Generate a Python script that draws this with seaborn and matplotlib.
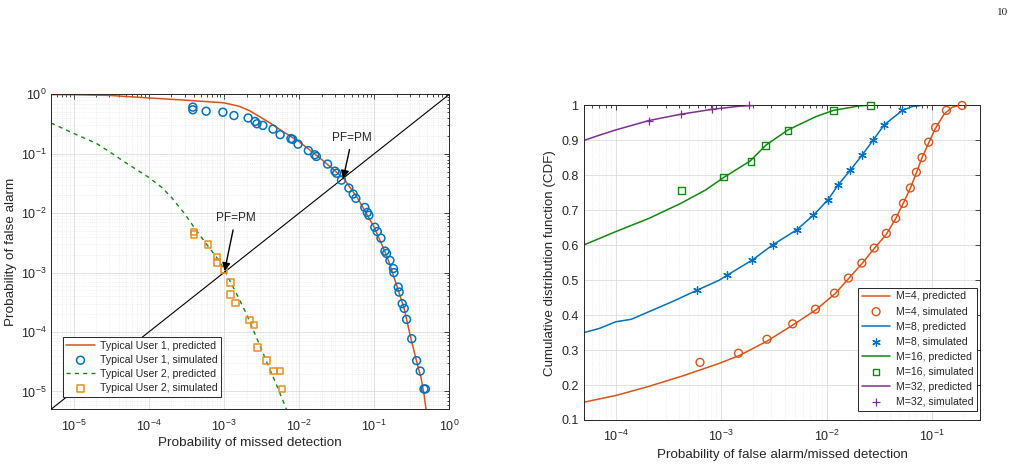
import matplotlib
matplotlib.use("Agg")
import matplotlib.pyplot as plt
import numpy as np
import seaborn as sns

# ---- left panel: user 1 / user 2 (log-log) ----
u1_pred_x = [5e-6, 1e-5, 3e-5, 1e-4, 3e-4, 1e-3, 1.6e-3, 2.2e-3, 3e-3, 4.1e-3, 6e-3,
             1e-2, 2e-2, 3.9e-2, 6e-2, 0.1, 0.15, 0.2, 0.25, 0.3, 0.36, 0.42, 0.46, 0.49]
u1_pred_y = [0.99, 0.985, 0.96, 0.87, 0.80, 0.72, 0.63, 0.53, 0.42, 0.33, 0.24,
             0.16, 0.08, 0.039, 0.018, 0.0058, 0.0018, 6e-4, 2.5e-4, 9e-5, 3.5e-5, 1.7e-5,
             9e-6, 5e-6]

u1_sim_x = [3.86e-4, 3.86e-4, 5.8e-4, 9.7e-4, 1.36e-3, 2.1e-3, 2.6e-3, 2.75e-3, 3.3e-3,
            4.5e-3, 5.6e-3, 7.8e-3, 8.2e-3, 9.7e-3, 0.0133, 0.0162, 0.017, 0.024, 0.030,
            0.0316, 0.0367, 0.046, 0.0525, 0.057, 0.075, 0.081, 0.085, 0.102, 0.11,
            0.123, 0.139, 0.146, 0.162, 0.18, 0.183, 0.209, 0.215, 0.236, 0.251, 0.27,
            0.316, 0.367, 0.41, 0.46, 0.48]
u1_sim_y = [0.61, 0.55, 0.52, 0.50, 0.44, 0.40, 0.35, 0.32, 0.30,
            0.26, 0.21, 0.18, 0.175, 0.145, 0.113, 0.096, 0.09, 0.067, 0.051,
            0.047, 0.036, 0.0265, 0.021, 0.0178, 0.0125, 0.0103, 0.0092, 0.0058, 0.0049,
            0.0038, 0.0023, 0.0021, 0.0016, 0.00117, 0.001, 5.7e-4, 4.7e-4, 3.0e-4, 2.5e-4, 1.63e-4,
            7.7e-5, 3.3e-5, 2.2e-5, 1.1e-5, 1.1e-5]

u2_pred_x = [5e-6, 1e-5, 2e-5, 3e-5, 5e-5, 1e-4, 1.5e-4, 2e-4, 3e-4, 4e-4, 6e-4, 8e-4,
             1e-3, 1.5e-3, 2e-3, 3e-3, 4e-3, 5e-3, 6.8e-3]
u2_pred_y = [0.33, 0.22, 0.15, 0.108, 0.07, 0.04, 0.027, 0.0185, 0.0098, 0.0058, 0.0029,
             0.0018, 0.00115, 4.2e-4, 2.0e-4, 6e-5, 2.5e-5, 1.3e-5, 5e-6]

u2_sim_x = [4.0e-4, 4.0e-4, 6.1e-4, 8.1e-4, 8.1e-4, 1.0e-3, 1.22e-3, 1.22e-3, 1.43e-3,
            2.2e-3, 2.5e-3, 2.8e-3, 3.7e-3, 4.6e-3, 5.6e-3, 5.9e-3]
u2_sim_y = [4.8e-3, 4.4e-3, 3.0e-3, 1.84e-3, 1.49e-3, 1.13e-3, 6.8e-4, 4.3e-4, 3.1e-4,
            1.6e-4, 1.3e-4, 5.5e-5, 3.3e-5, 2.2e-5, 2.2e-5, 1.1e-5]

diag_xy = [5e-6, 1.0]

# ---- right panel: CDF for different M ----
m4_pred_x = [5e-5, 1e-4, 2e-4, 4.3e-4, 9.6e-4, 1.5e-3, 2.7e-3, 4.8e-3, 7.9e-3, 0.012, 0.016,
             0.0216, 0.028, 0.037, 0.045, 0.053, 0.062, 0.071, 0.080, 0.093, 0.108, 0.13,
             0.155, 0.18]
m4_pred_y = [0.151, 0.170, 0.195, 0.226, 0.262, 0.285, 0.325, 0.372, 0.415, 0.461, 0.503,
             0.547, 0.589, 0.632, 0.675, 0.718, 0.762, 0.807, 0.849, 0.893, 0.935, 0.975,
             0.995, 1.0]
m4_sim_x = [6.3e-4, 1.46e-3, 2.72e-3, 4.77e-3, 7.85e-3, 0.0119, 0.0161, 0.0216, 0.0283, 0.0369,
            0.0452, 0.0535, 0.0623, 0.0711, 0.0804, 0.093, 0.108, 0.137, 0.193]
m4_sim_y = [0.265, 0.291, 0.331, 0.375, 0.417, 0.463, 0.506, 0.549, 0.592, 0.634,
            0.677, 0.720, 0.764, 0.809, 0.851, 0.895, 0.937, 0.986, 1.0]

m8_pred_x = [5e-5, 7e-5, 1e-4, 1.4e-4, 2.07e-4, 3.46e-4, 5.96e-4, 9.6e-4, 1.15e-3, 1.98e-3,
             3.08e-3, 5.2e-3, 7.5e-3, 0.0103, 0.0129, 0.0168, 0.0216, 0.0275, 0.0353, 0.0524,
             0.065, 0.079]
m8_pred_y = [0.350, 0.362, 0.381, 0.388, 0.410, 0.439, 0.472, 0.500, 0.515, 0.558,
             0.601, 0.644, 0.686, 0.730, 0.773, 0.815, 0.857, 0.900, 0.945, 0.986,
             0.997, 1.0]
m8_sim_x = [5.9e-4, 1.13e-3, 1.96e-3, 3.1e-3, 5.2e-3, 7.5e-3, 0.0103, 0.0129, 0.0168, 0.0216,
            0.0275, 0.0353, 0.0524]
m8_sim_y = [0.472, 0.515, 0.558, 0.601, 0.644, 0.686, 0.730, 0.773, 0.815, 0.857,
            0.900, 0.945, 0.986]

m16_pred_x = [5e-5, 1e-4, 2.07e-4, 4.15e-4, 7.1e-4, 1.07e-3, 1.88e-3, 2.67e-3, 4.3e-3, 7.9e-3,
              0.0116, 0.0206, 0.024]
m16_pred_y = [0.601, 0.639, 0.677, 0.720, 0.758, 0.795, 0.841, 0.887, 0.930, 0.968,
              0.986, 0.999, 1.0]
m16_sim_x = [4.2e-4, 1.05e-3, 1.92e-3, 2.63e-3, 4.3e-3, 0.0116, 0.026]
m16_sim_y = [0.756, 0.795, 0.839, 0.885, 0.928, 0.986, 1.0]

m32_pred_x = [5e-5, 7e-5, 1e-4, 2.07e-4, 4.15e-4, 8.2e-4, 1.5e-3, 2e-3]
m32_pred_y = [0.900, 0.915, 0.930, 0.957, 0.975, 0.989, 0.998, 1.0]
m32_sim_x = [2.07e-4, 4.15e-4, 8.2e-4, 1.85e-3]
m32_sim_y = [0.957, 0.975, 0.989, 1.0]

right_yticks = [0.1, 0.2, 0.3, 0.4, 0.5, 0.6, 0.7, 0.8, 0.9, 1.0]
right_yticklabels = ["0.1", "0.2", "0.3", "0.4", "0.5", "0.6", "0.7", "0.8", "0.9", "1"]

# colours (MATLAB-like)
c_orange = "#D95319"
c_blue = "#0072BD"
c_green = "#0F8A0F"
c_purple = "#7E2F8E"
c_yellow = "#E8901E"
c_green_dash = "#118811"

sns.set_style("white")
plt.rcParams["font.family"] = ["Liberation Sans", "DejaVu Sans"]
plt.rcParams["mathtext.fontset"] = "custom"
plt.rcParams["mathtext.rm"] = "Liberation Sans"
plt.rcParams["mathtext.it"] = "Liberation Sans:italic"
plt.rcParams["mathtext.bf"] = "Liberation Sans:bold"

fig = plt.figure(figsize=(10.24, 4.68), dpi=100)
ax1 = fig.add_axes([0.0498, 0.1254, 0.389, 0.673])
ax2 = fig.add_axes([0.5703, 0.1026, 0.3867, 0.672])

tick_col = "#262626"


def style_axes(ax, minor_y=True, labelsize=8.5):
    ax.grid(True, which="major", color="#dcdcdc", linewidth=0.6, linestyle="-")
    ax.grid(True, which="minor", axis="x", color="#e2e2e2", linewidth=0.5, linestyle=":")
    if minor_y:
        ax.grid(True, which="minor", axis="y", color="#e2e2e2", linewidth=0.5, linestyle=":")
    ax.set_axisbelow(True)
    ax.tick_params(which="both", direction="in", top=True, right=True,
                   colors=tick_col, labelsize=labelsize, width=0.6)
    ax.tick_params(which="major", length=3.5, pad=4)
    ax.tick_params(which="minor", length=1.8)
    for s in ax.spines.values():
        s.set_color(tick_col)
        s.set_linewidth(0.7)


# ---------- left ----------
sns.lineplot(x=u1_pred_x, y=u1_pred_y, ax=ax1, color=c_orange, linewidth=1.1,
             sort=False, estimator=None, label="Typical User 1, predicted")
sns.scatterplot(x=u1_sim_x, y=u1_sim_y, ax=ax1, marker="o", s=32, color=c_blue,
                facecolor="none", edgecolor=c_blue, linewidth=1.1, zorder=4,
                label="Typical User 1, simulated")
sns.lineplot(x=u2_pred_x, y=u2_pred_y, ax=ax1, color=c_green_dash, linewidth=1.0,
             linestyle=(0, (3, 3)), sort=False, estimator=None,
             label="Typical User 2, predicted")
sns.scatterplot(x=u2_sim_x, y=u2_sim_y, ax=ax1, marker="s", s=22, color=c_yellow,
                facecolor="none", edgecolor=c_yellow, linewidth=1.1, zorder=4,
                label="Typical User 2, simulated")
ax1.plot(diag_xy, diag_xy, color="black", linewidth=0.8, zorder=3)

ax1.set_xscale("log")
ax1.set_yscale("log")
ax1.set_xlim(5e-6, 1)
ax1.set_ylim(5e-6, 1)
ax1.set_xticks([1e-5, 1e-4, 1e-3, 1e-2, 1e-1, 1])
ax1.set_yticks([1e-5, 1e-4, 1e-3, 1e-2, 1e-1, 1])
style_axes(ax1, labelsize=9)
ax1.tick_params(axis="x", which="major", pad=7)
ax1.tick_params(axis="y", which="major", pad=3)
ax1.set_xlabel("Probability of missed detection", fontsize=9.7, color=tick_col, labelpad=2)
ax1.set_ylabel("Probability of false alarm", fontsize=9.7, color=tick_col, labelpad=3)

arrow_kw = dict(arrowstyle="-|>", color="black", lw=1.0, mutation_scale=12,
                shrinkA=2, shrinkB=0)
ax1.annotate("PF=PM", xy=(0.0386, 0.038), xytext=(0.0509, 0.187),
             ha="center", va="center", fontsize=8.5, color=tick_col,
             arrowprops=arrow_kw, zorder=6)
ax1.annotate("PF=PM", xy=(1.02e-3, 1.06e-3), xytext=(1.43e-3, 8.3e-3),
             ha="center", va="center", fontsize=8.5, color=tick_col,
             arrowprops=arrow_kw, zorder=6)

leg1 = ax1.legend(loc="lower left", bbox_to_anchor=(0.029, 0.04), borderaxespad=0,
                  fontsize=7.6, frameon=True, fancybox=False, framealpha=1,
                  edgecolor="#262626", handlelength=2.7, labelspacing=0.38,
                  borderpad=0.35, handletextpad=0.5)
leg1.get_frame().set_linewidth(0.7)

# ---------- right ----------
series = [
    (m4_pred_x, m4_pred_y, m4_sim_x, m4_sim_y, c_orange, "o", 32, "M=4"),
    (m8_pred_x, m8_pred_y, m8_sim_x, m8_sim_y, c_blue, (6, 2, 0), 30, "M=8"),
    (m16_pred_x, m16_pred_y, m16_sim_x, m16_sim_y, c_green, "s", 22, "M=16"),
    (m32_pred_x, m32_pred_y, m32_sim_x, m32_sim_y, c_purple, "+", 32, "M=32"),
]
for px, py, sx, sy, col, mk, sz, name in series:
    sns.lineplot(x=px, y=py, ax=ax2, color=col, linewidth=1.1, sort=False,
                 estimator=None, label=f"{name}, predicted")
    if mk in ("o", "s"):
        sns.scatterplot(x=sx, y=sy, ax=ax2, marker=mk, s=sz, color=col,
                        facecolor="none", edgecolor=col, linewidth=1.0, zorder=4,
                        clip_on=False, label=f"{name}, simulated")
    else:
        sns.scatterplot(x=sx, y=sy, ax=ax2, marker=mk, s=sz, color=col,
                        linewidth=0.9, zorder=4, clip_on=False,
                        label=f"{name}, simulated")

ax2.set_xscale("log")
ax2.set_xlim(5e-5, 0.285)
ax2.set_ylim(0.1, 1.0)
ax2.set_xticks([1e-4, 1e-3, 1e-2, 1e-1])
ax2.set_yticks(right_yticks)
ax2.set_yticklabels(right_yticklabels)
style_axes(ax2, minor_y=False, labelsize=9)
ax2.tick_params(axis="x", which="major", pad=6)
ax2.set_xlabel("Probability of false alarm/missed detection", fontsize=9.6,
               color=tick_col, labelpad=4)
ax2.set_ylabel("Cumulative distribution function (CDF)", fontsize=9.6,
               color=tick_col, labelpad=4)

leg2 = ax2.legend(loc="lower right", bbox_to_anchor=(0.992, 0.03), borderaxespad=0,
                  fontsize=7.6, frameon=True, fancybox=False, framealpha=1,
                  edgecolor="#262626", handlelength=2.7, labelspacing=0.48,
                  borderpad=0.35, handletextpad=0.5)
leg2.get_frame().set_linewidth(0.7)

fig.text(0.9795, 0.974, "10", fontfamily="Liberation Serif", fontsize=8,
         ha="center", va="center", color="#222222")

fig.savefig("out.png", dpi=100)
